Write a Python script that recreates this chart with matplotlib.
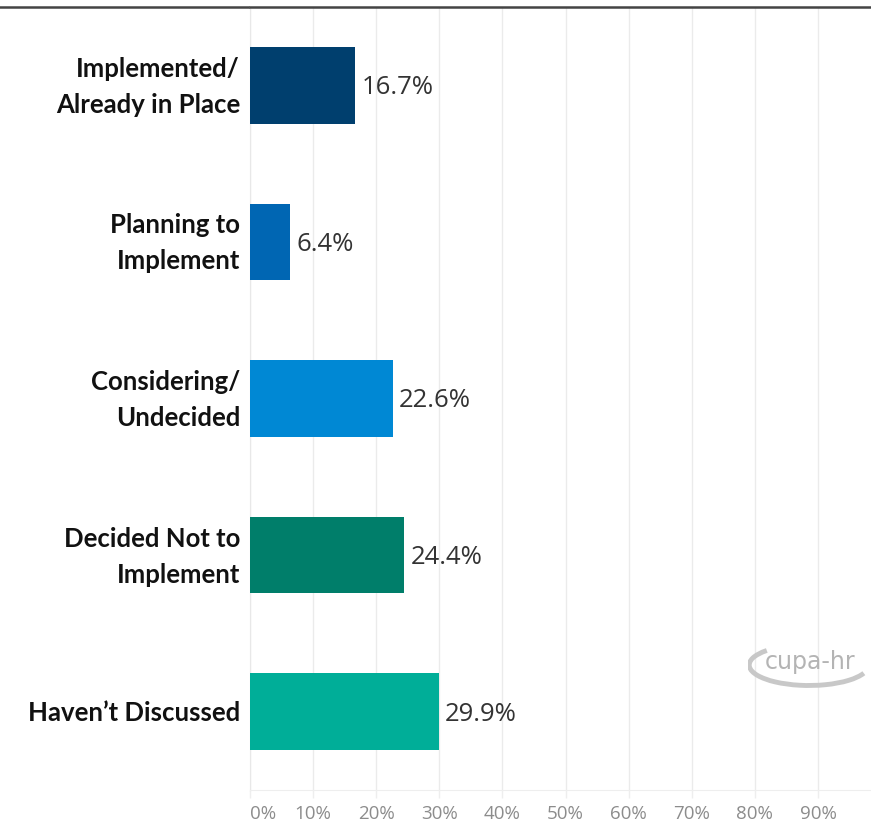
import matplotlib
matplotlib.use("Agg")
import matplotlib.pyplot as plt
from matplotlib.patches import Arc
from matplotlib.lines import Line2D

categories = ["Implemented/\nAlready in Place", "Planning to\nImplement", "Considering/\nUndecided",
              "Decided Not to\nImplement", "Haven\u2019t Discussed"]
values = [16.7, 6.4, 22.6, 24.4, 29.9]
colors = ["#003F6E", "#0066B3", "#0088D4", "#007E6A", "#00AE98"]
ticks = [0, 10, 20, 30, 40, 50, 60, 70, 80, 90]
tick_labels = [f"{t}%" for t in ticks]

W, H = 871, 825
fig = plt.figure(figsize=(W / 100, H / 100), dpi=100)
ax = fig.add_axes([250 / W, 1 - 790 / H, (871 - 250) / W, (790 - 7) / H])

y = list(range(len(categories)))
ax.barh(y, values, height=0.49, color=colors, zorder=3)
ax.set_ylim(4.5, -0.5)
ax.set_xlim(0, 98.4)

for yi, v in zip(y, values):
    ax.text(v + 1.0, yi + 0.015, f"{v:.1f}%", va="center", ha="left", fontsize=18.5,
            color="#333333", family="Open Sans", zorder=4)

ax.set_xticks(ticks)
ax.set_xticklabels(tick_labels, fontsize=13.5, color="#8c8c8c", family="Open Sans")
ax.get_xticklabels()[0].set_horizontalalignment("left")
ax.tick_params(axis="x", length=6, color="#eeeeee", pad=5, width=1)
ax.tick_params(axis="y", length=0)
ax.set_yticks(y)
ax.set_yticklabels([])
for yi, c in zip(y, categories):
    ax.text(-0.016, yi + 0.01, c, transform=ax.get_yaxis_transform(), ha="right", va="center",
            fontsize=18.5, fontweight="bold", color="#111111", family="Lato", linespacing=1.6)

ax.grid(axis="x", color="#ebebeb", linewidth=1, zorder=0)
for s in ["top", "right", "left"]:
    ax.spines[s].set_visible(False)
ax.spines["bottom"].set_color("#eeeeee")
ax.spines["left"].set_visible(True)
ax.spines["left"].set_color("#e8e8e8")

# header line across the top
fig.add_artist(Line2D([0, 248 / W], [1 - 7 / H, 1 - 7 / H], color="#444444", lw=1.8))
fig.add_artist(Line2D([250 / W, 1], [1 - 7 / H, 1 - 7 / H], color="#444444", lw=1.8))

# watermark logo
fig.text(810 / W, 1 - 662 / H, "cupa-hr", ha="center", va="center", fontsize=17,
         color="#b0b0b0", family="Liberation Sans Narrow", alpha=0.95)
lax = fig.add_axes([748 / W, 1 - 690 / H, 122 / W, 50 / H])
lax.set_xlim(0, 1)
lax.set_ylim(0, 1)
lax.axis("off")
lax.add_patch(Arc((0.5, 0.5), 0.98, 0.82, theta1=140, theta2=340, color="#c8c8c8", lw=3.5))

fig.savefig("out.png", dpi=100)
